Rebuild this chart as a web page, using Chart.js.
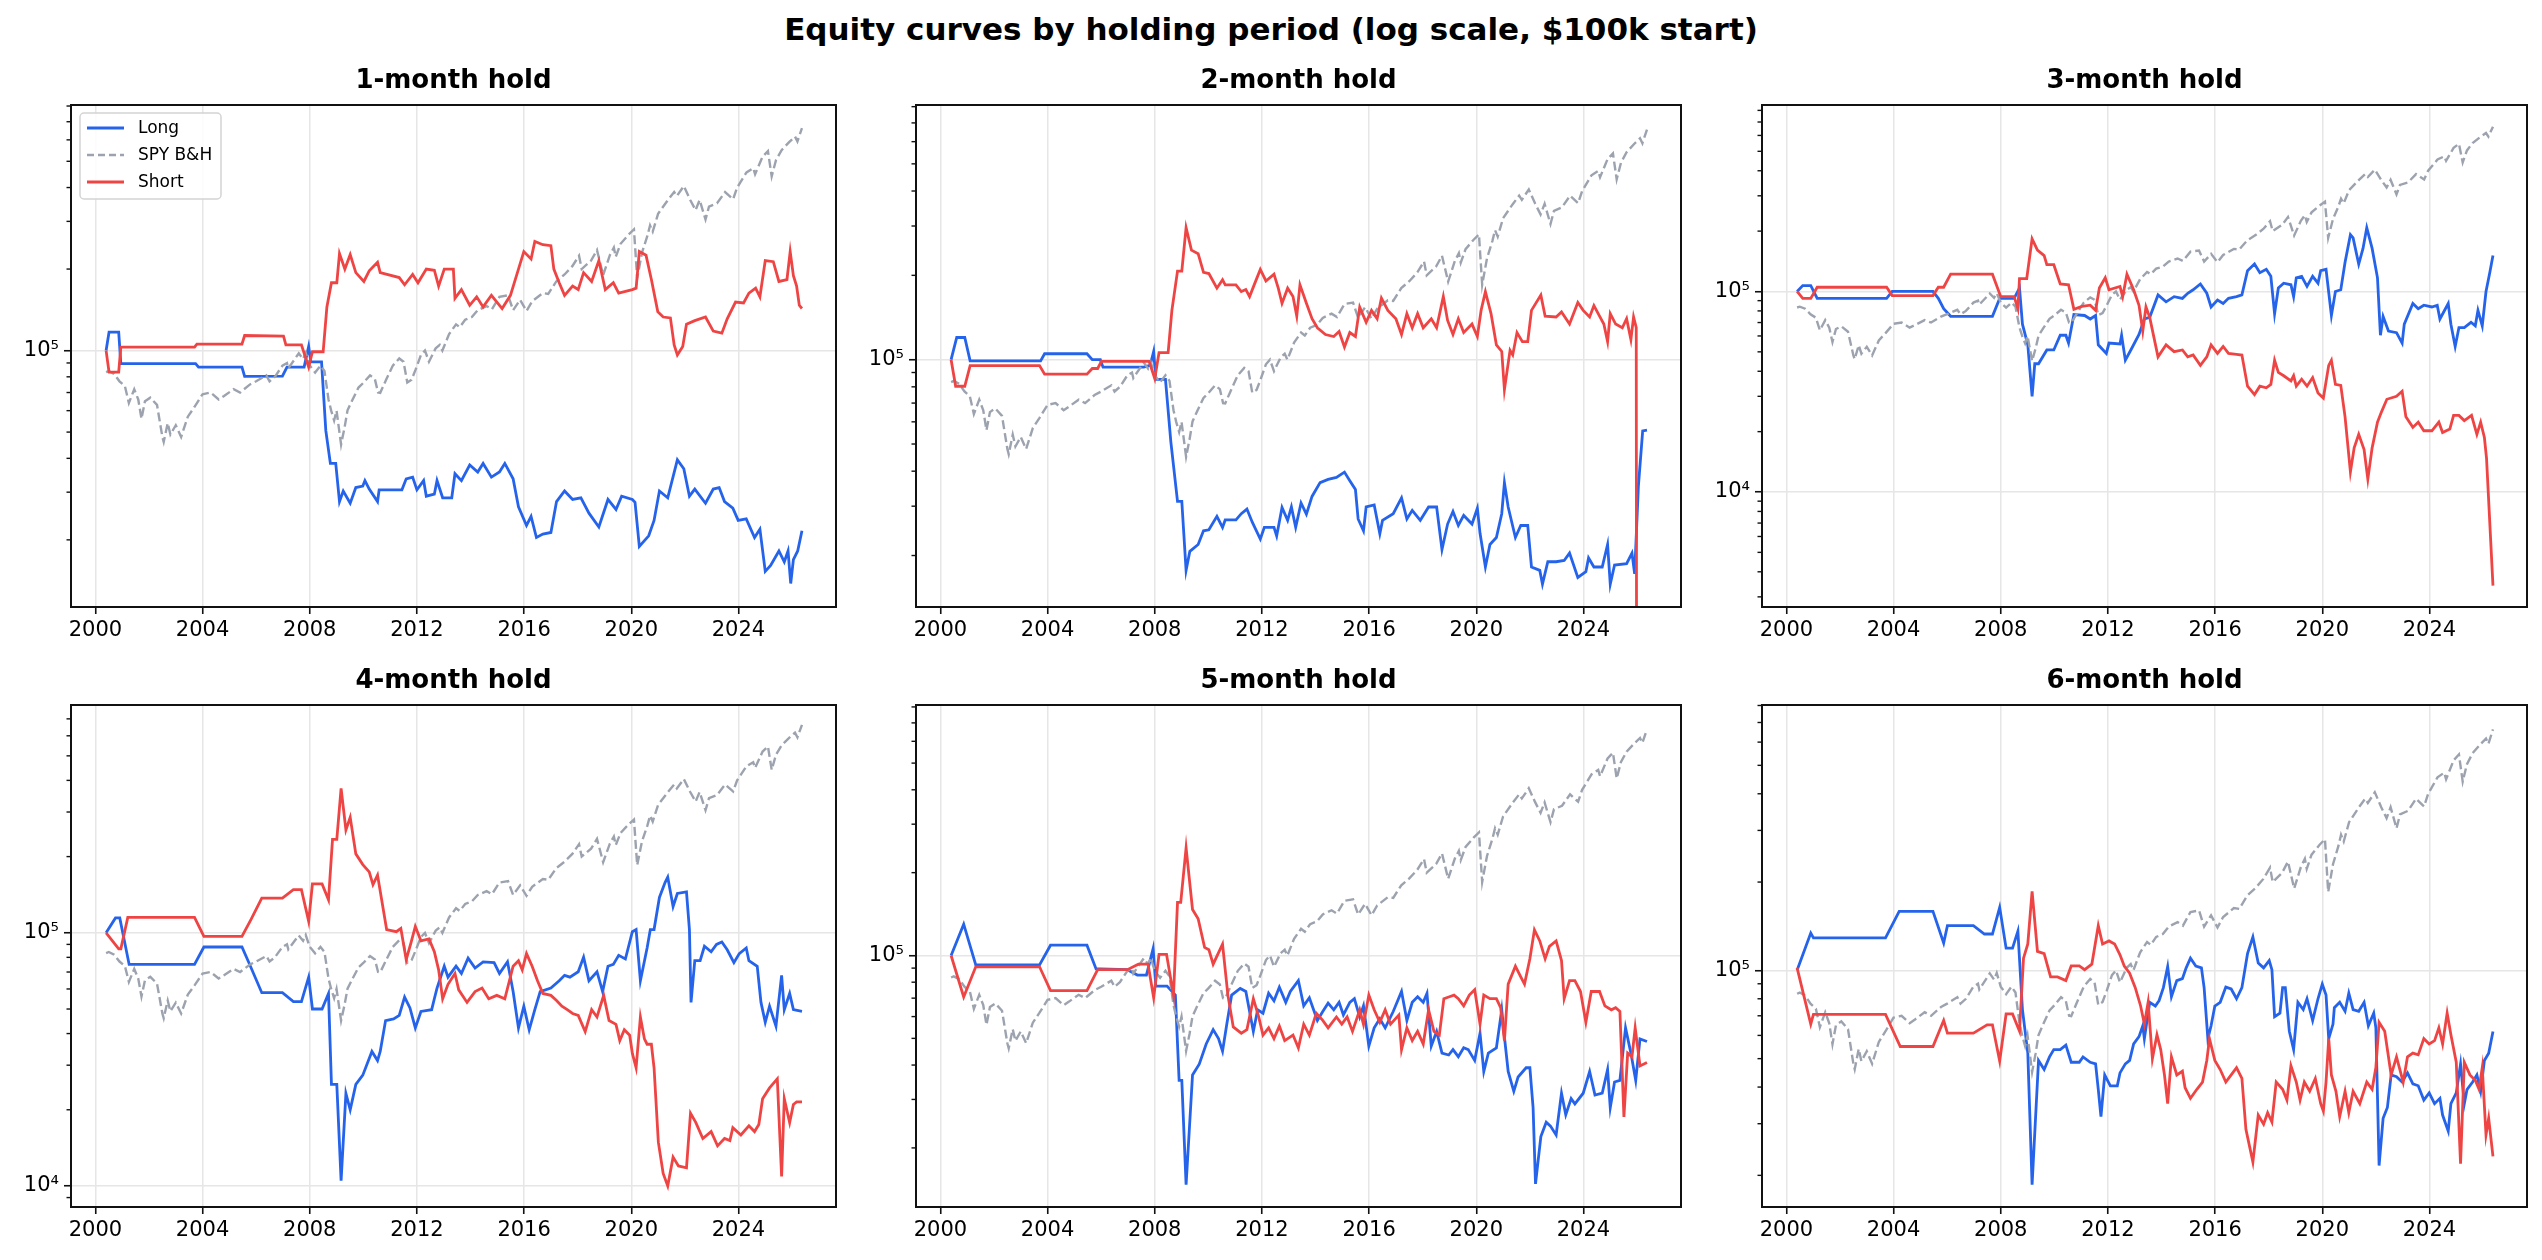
<!doctype html>
<html>
<head>
<title>Equity curves by holding period</title>
<script src="https://cdn.jsdelivr.net/npm/chart.js@4.4.1/dist/chart.umd.min.js"></script>
<style>
  body { margin: 0; background: #fff; width: 2542px; height: 1260px; position: relative; overflow: hidden; font-family: 'DejaVu Sans', sans-serif; }
  #suptitle { position: absolute; left: 0; top: 11px; width: 2542px; text-align: center; font-weight: bold; font-size: 31px; line-height: 36px; color: #000; }
  canvas { position: absolute; }
</style>
</head>
<body>
<div id="suptitle">Equity curves by holding period (log scale, $100k start)</div>
<canvas id="c0" width="860" height="607"></canvas>
<canvas id="c1" width="860" height="607"></canvas>
<canvas id="c2" width="860" height="607"></canvas>
<canvas id="c3" width="860" height="607"></canvas>
<canvas id="c4" width="860" height="607"></canvas>
<canvas id="c5" width="860" height="607"></canvas>
<script>
// values are [year, equity in $k]
const spy = [[2000.40,83.2],[2000.50,84],[2000.70,82],[2000.90,77],[2001.10,74],[2001.25,64],[2001.45,72],[2001.60,66],[2001.72,56],[2001.85,65],[2002.05,67],[2002.30,63],[2002.50,48],[2002.55,46],[2002.70,54],[2002.80,49],[2003.00,53],[2003.20,48],[2003.45,57],[2003.70,62],[2004.00,69],[2004.30,70],[2004.60,66],[2004.80,68],[2005.16,72],[2005.40,70],[2005.77,75],[2006.00,77],[2006.38,81],[2006.50,77],[2006.70,80],[2006.98,88],[2007.15,90],[2007.20,86],[2007.59,97.7],[2007.75,93],[2007.85,98],[2008.00,88],[2008.20,83],[2008.40,88],[2008.55,84],[2008.70,66],[2008.80,60],[2008.91,55.2],[2009.00,60],[2009.17,45],[2009.30,52],[2009.41,60.2],[2009.60,66],[2009.82,73],[2010.00,76],[2010.25,81],[2010.43,78.5],[2010.55,70],[2010.63,69.8],[2010.85,78],[2011.10,88],[2011.34,93.5],[2011.50,91],[2011.64,76.2],[2011.80,78],[2011.95,85],[2012.15,96.3],[2012.30,100],[2012.45,91],[2012.70,102],[2012.85,105],[2012.95,100],[2013.20,115],[2013.46,125],[2013.60,122],[2013.80,130],[2014.05,133],[2014.27,141],[2014.60,146],[2014.80,142],[2015.08,158],[2015.40,160],[2015.59,141],[2015.85,154],[2016.09,140],[2016.30,152],[2016.70,163],[2016.90,162],[2017.20,180],[2017.51,191],[2017.80,205],[2018.05,224],[2018.15,200],[2018.50,215],[2018.72,235],[2018.95,190],[2019.20,225],[2019.35,240],[2019.42,222],[2019.60,248],[2019.90,268],[2020.10,280],[2020.22,185],[2020.40,230],[2020.60,265],[2020.70,290],[2020.80,275],[2021.00,320],[2021.36,359],[2021.60,385],[2021.70,372],[2021.96,405],[2022.20,360],[2022.40,330],[2022.55,360],[2022.77,305],[2022.90,340],[2023.20,350],[2023.50,385],[2023.80,362],[2023.95,400],[2024.30,455],[2024.55,472],[2024.62,448],[2024.90,520],[2025.10,545],[2025.24,440],[2025.40,505],[2025.61,550],[2025.90,590],[2026.11,617],[2026.20,592],[2026.37,663]];

const long1 = [[2000.40,100],[2000.51,117],[2000.87,117],[2000.95,89.5],[2003.74,89.5],[2003.85,86.9],[2005.47,86.9],[2005.57,80.3],[2006.98,80.5],[2007.15,86.9],[2007.79,86.9],[2007.96,103.6],[2008.04,90.8],[2008.44,90.8],[2008.60,50.6],[2008.77,38.3],[2008.97,38.3],[2009.11,27.7],[2009.25,30.3],[2009.51,27.3],[2009.72,31.2],[2009.98,31.6],[2010.06,33.1],[2010.22,30.8],[2010.53,27.7],[2010.59,30.6],[2011.44,30.6],[2011.60,33.6],[2011.84,34.1],[2012.00,30.6],[2012.25,33.1],[2012.35,29],[2012.65,29.5],[2012.75,33.1],[2012.96,28.6],[2013.30,28.6],[2013.42,35.1],[2013.66,33.1],[2013.97,37.8],[2014.27,35.6],[2014.47,38.3],[2014.78,34.1],[2015.08,35.6],[2015.28,38.3],[2015.59,33.6],[2015.79,26.5],[2016.09,22.6],[2016.26,24.4],[2016.46,20.4],[2016.70,21],[2017.00,21.3],[2017.21,27.7],[2017.51,30.3],[2017.81,28.2],[2018.12,28.6],[2018.42,25.1],[2018.79,22.3],[2019.13,28.2],[2019.43,25.9],[2019.64,29],[2020.04,28.2],[2020.14,27.5],[2020.30,18.9],[2020.65,20.7],[2020.85,23.6],[2021.05,30.3],[2021.36,28.6],[2021.72,39.5],[2021.96,36.6],[2022.17,29],[2022.37,30.8],[2022.77,27.3],[2023.06,30.8],[2023.28,31.2],[2023.48,27.7],[2023.79,26.2],[2023.99,23.6],[2024.29,23.9],[2024.60,20.4],[2024.80,21.9],[2025.00,15.3],[2025.20,16.1],[2025.51,18.2],[2025.71,16.6],[2025.85,18.2],[2025.95,13.8],[2026.05,16.9],[2026.21,18.2],[2026.37,21.6]];
const short1 = [[2000.40,100],[2000.51,83.2],[2000.87,83.2],[2000.95,103],[2003.70,103],[2003.79,105.7],[2005.47,105.7],[2005.57,113.7],[2007.02,113],[2007.11,105],[2007.69,105],[2007.96,86.9],[2008.10,99],[2008.50,99],[2008.64,145],[2008.81,178],[2009.01,178],[2009.11,228],[2009.31,200],[2009.51,226],[2009.72,194],[2010.02,180],[2010.22,197],[2010.53,212],[2010.63,194],[2011.34,186],[2011.54,175],[2011.84,191],[2012.04,178],[2012.35,200],[2012.65,198],[2012.81,173],[2013.02,200],[2013.36,200],[2013.42,156],[2013.66,168],[2013.97,147],[2014.23,158],[2014.47,145],[2014.78,160],[2015.18,143],[2015.49,160],[2015.79,200],[2015.99,232],[2016.26,218],[2016.40,253],[2016.70,246],[2017.00,244],[2017.11,200],[2017.31,178],[2017.51,160],[2017.81,173],[2018.02,168],[2018.22,194],[2018.52,180],[2018.79,215],[2019.03,168],[2019.33,178],[2019.53,163],[2020.04,168],[2020.18,170],[2020.30,232],[2020.55,225],[2020.75,183],[2020.99,139],[2021.19,133],[2021.46,132],[2021.60,105],[2021.72,96.3],[2021.92,103.6],[2022.06,125],[2022.37,129],[2022.77,133],[2023.06,118],[2023.38,116],[2023.58,131],[2023.89,151],[2024.19,150],[2024.39,163],[2024.64,170],[2024.80,158],[2025.00,215],[2025.30,213],[2025.51,180],[2025.81,183],[2025.93,232],[2026.05,189],[2026.17,173],[2026.27,147],[2026.37,143]];

const long2 = [[2000.40,100],[2000.61,120],[2000.91,120],[2001.11,99],[2003.74,99],[2003.89,105],[2005.47,105],[2005.67,100],[2005.97,100],[2006.07,94],[2007.59,94],[2007.83,95.5],[2007.96,107],[2008.04,85],[2008.40,85],[2008.60,51],[2008.85,31.2],[2009.01,31.2],[2009.17,17.7],[2009.31,20.7],[2009.62,21.9],[2009.82,24.5],[2010.02,24.7],[2010.32,27.6],[2010.53,25.2],[2010.63,26.8],[2011.03,26.8],[2011.23,28.2],[2011.44,29.3],[2011.64,26.3],[2011.94,22.9],[2012.09,25.2],[2012.45,25.2],[2012.55,23.5],[2012.75,29.7],[2012.96,26.7],[2013.10,29.8],[2013.26,25.2],[2013.46,30.8],[2013.66,28.1],[2013.87,32.5],[2014.17,36.4],[2014.47,37.4],[2014.78,38],[2015.08,39.7],[2015.28,37],[2015.49,34.4],[2015.59,27],[2015.79,24.5],[2015.89,29.8],[2016.19,30.3],[2016.40,23.9],[2016.50,26.7],[2016.90,28.2],[2017.21,32.1],[2017.41,27],[2017.61,29],[2017.91,26.7],[2018.22,29.8],[2018.52,29.8],[2018.72,21],[2018.93,25.9],[2019.13,28.7],[2019.33,25.6],[2019.53,27.8],[2019.84,25.9],[2020.04,29.5],[2020.14,24],[2020.34,18.2],[2020.51,21.9],[2020.75,23.2],[2020.95,28.2],[2021.05,36.4],[2021.19,29.8],[2021.46,23.2],[2021.66,25.6],[2021.92,25.6],[2022.06,18.2],[2022.37,17.7],[2022.47,15.8],[2022.67,19],[2022.98,19],[2023.28,19.2],[2023.48,20.4],[2023.79,16.7],[2024.09,17.5],[2024.19,19.6],[2024.39,18.2],[2024.70,18.2],[2024.90,21.9],[2025.00,15.8],[2025.16,18.5],[2025.61,18.7],[2025.81,20.4],[2025.91,17.2],[2026.05,35.4],[2026.21,55.7],[2026.37,56]];
const short2 = [[2000.40,100],[2000.57,80.4],[2000.91,80.4],[2001.11,95.3],[2003.70,95.3],[2003.89,88.8],[2005.47,88.8],[2005.67,93],[2005.87,93],[2006.01,98.6],[2007.79,98.6],[2008.00,85.6],[2008.16,106],[2008.50,106],[2008.64,150],[2008.85,207],[2009.01,207],[2009.17,296],[2009.37,246],[2009.62,239],[2009.82,205],[2010.02,203],[2010.32,180],[2010.53,193],[2010.63,185],[2011.03,185],[2011.23,175],[2011.40,178],[2011.54,168],[2011.74,188],[2011.94,210],[2012.15,191],[2012.45,202],[2012.61,180],[2012.75,159],[2012.96,180],[2013.16,168],[2013.30,143],[2013.42,185],[2013.66,159],[2013.87,140],[2014.07,130],[2014.37,123],[2014.68,121],[2014.88,126],[2015.08,111],[2015.28,125],[2015.49,121],[2015.65,154],[2015.89,136],[2016.09,150],[2016.30,140],[2016.46,166],[2016.70,150],[2017.00,140],[2017.21,123],[2017.41,146],[2017.61,130],[2017.81,146],[2018.02,130],[2018.32,140],[2018.52,130],[2018.77,168],[2018.93,138],[2019.13,123],[2019.33,140],[2019.53,125],[2019.84,134],[2020.04,121],[2020.18,150],[2020.34,175],[2020.55,146],[2020.75,113],[2020.95,107],[2021.05,78.2],[2021.26,108],[2021.36,104],[2021.52,125],[2021.72,116],[2021.92,116],[2022.06,150],[2022.41,170],[2022.57,143],[2022.98,142],[2023.18,148],[2023.48,134],[2023.79,160],[2023.99,150],[2024.23,142],[2024.39,156],[2024.60,143],[2024.76,134],[2024.90,116],[2025.00,146],[2025.20,134],[2025.45,130],[2025.61,140],[2025.77,118],[2025.87,142],[2025.97,130],[2026.01,0.01]];

const long3 = [[2000.40,100],[2000.61,107],[2000.91,107],[2001.15,92.4],[2003.74,92.4],[2003.95,100],[2005.47,100],[2005.67,92.4],[2005.87,82.1],[2006.13,75.2],[2007.69,75.2],[2007.96,92.4],[2008.50,92.4],[2008.70,104],[2008.81,68.7],[2009.01,54.2],[2009.17,30],[2009.27,43.6],[2009.41,43.6],[2009.72,51.1],[2009.98,51.1],[2010.22,60.5],[2010.43,60.5],[2010.53,55.3],[2010.73,76.7],[2011.13,75.9],[2011.34,72.9],[2011.54,75.9],[2011.64,54.2],[2011.94,49.1],[2012.04,55.3],[2012.45,54.7],[2012.51,60.5],[2012.65,45.4],[2012.89,52.1],[2013.16,61.1],[2013.36,72.9],[2013.56,74.3],[2013.87,96.1],[2014.17,88.8],[2014.47,94.2],[2014.78,92.4],[2014.98,98],[2015.18,102],[2015.45,109],[2015.69,98],[2015.85,83.7],[2016.09,90.6],[2016.30,87.1],[2016.50,92.4],[2016.80,94.2],[2017.00,96.1],[2017.21,127],[2017.47,137],[2017.67,124],[2017.91,129],[2018.08,119],[2018.22,77.4],[2018.36,104],[2018.56,110],[2018.83,108],[2018.93,94.2],[2019.03,117],[2019.23,119],[2019.43,106],[2019.64,119],[2019.84,110],[2019.94,127],[2020.14,129],[2020.34,75.9],[2020.49,100],[2020.69,102],[2020.85,140],[2021.05,192],[2021.15,185],[2021.36,137],[2021.52,164],[2021.66,208],[2021.86,164],[2022.06,117],[2022.17,60.5],[2022.27,75],[2022.47,63.5],[2022.77,62.3],[2022.98,55.3],[2023.06,68.7],[2023.38,87.1],[2023.58,82.1],[2023.79,85.4],[2024.09,83.7],[2024.29,85.4],[2024.39,72.9],[2024.70,87.1],[2024.80,68.7],[2024.96,53.2],[2025.10,66.1],[2025.30,66.1],[2025.55,70.2],[2025.71,67.4],[2025.81,80.5],[2025.97,67.4],[2026.11,100],[2026.25,124],[2026.37,151]];
const short3 = [[2000.40,100],[2000.61,92.4],[2000.91,92.4],[2001.15,105],[2003.74,105],[2003.95,95.4],[2005.47,95.4],[2005.67,105],[2005.87,105],[2006.13,122],[2007.69,122],[2008.00,94.2],[2008.50,94.2],[2008.64,82.1],[2008.70,116],[2008.97,116],[2009.17,183],[2009.37,161],[2009.62,151],[2009.72,136],[2009.98,136],[2010.22,109],[2010.53,108],[2010.73,81.5],[2011.03,84.4],[2011.34,85.4],[2011.54,80.5],[2011.68,104],[2011.90,117],[2012.04,102],[2012.45,106],[2012.55,94.2],[2012.71,122],[2012.96,102],[2013.16,85.4],[2013.30,63.5],[2013.42,83.7],[2013.56,74.3],[2013.87,47.2],[2014.17,54.2],[2014.47,50.1],[2014.78,51.1],[2014.98,47.2],[2015.18,48.2],[2015.45,42.8],[2015.69,47.2],[2015.85,54.2],[2016.09,49.1],[2016.30,53.2],[2016.50,49.1],[2016.80,48.6],[2017.00,48.2],[2017.21,33.7],[2017.47,30.6],[2017.67,33.7],[2017.91,33.1],[2018.08,34.4],[2018.22,45.4],[2018.36,39.5],[2018.56,38],[2018.83,35.8],[2018.93,38],[2019.03,33.7],[2019.23,36.5],[2019.43,33.7],[2019.64,37.2],[2019.84,31.2],[2020.04,29.4],[2020.24,42.8],[2020.34,45.4],[2020.49,34.4],[2020.69,34],[2020.85,23.7],[2021.05,12.6],[2021.19,16.6],[2021.36,19.4],[2021.56,16.3],[2021.70,11.6],[2021.86,16.6],[2022.06,22.3],[2022.21,25.1],[2022.41,29],[2022.77,30],[2022.98,31.8],[2023.12,23.7],[2023.38,21],[2023.58,22.3],[2023.79,20.2],[2024.09,20.2],[2024.35,22.3],[2024.49,19.8],[2024.76,20.6],[2024.90,24.1],[2025.10,24.1],[2025.30,22.7],[2025.57,24.1],[2025.77,19.4],[2025.91,22.3],[2026.05,18.7],[2026.13,14.7],[2026.37,3.41]];

const long4 = [[2000.40,100],[2000.75,114.5],[2000.91,114.5],[2001.26,75],[2003.70,75],[2004.05,87.9],[2005.47,87.9],[2005.73,76.2],[2006.21,58],[2006.98,58],[2007.39,53.5],[2007.69,53.5],[2007.96,66.8],[2008.10,50],[2008.46,50],[2008.70,57.6],[2008.81,25.2],[2009.01,25.2],[2009.17,10.5],[2009.35,23.2],[2009.51,20],[2009.72,25.2],[2009.98,27.4],[2010.32,34],[2010.53,31.3],[2010.63,34],[2010.83,45],[2011.13,45.7],[2011.34,47.2],[2011.54,55.7],[2011.74,50.5],[2011.94,42.1],[2012.15,48.9],[2012.55,49.7],[2012.65,54.9],[2012.75,60.5],[2013.02,73.8],[2013.16,66.8],[2013.46,73.8],[2013.66,69.1],[2013.91,79.4],[2014.17,72.6],[2014.47,76.8],[2014.88,76.2],[2015.08,69.1],[2015.38,76.8],[2015.59,58.6],[2015.79,42.1],[2015.99,51.3],[2016.19,41.4],[2016.40,49.7],[2016.60,58.6],[2017.00,60.5],[2017.31,64.7],[2017.51,67.9],[2017.71,66.8],[2018.02,70.2],[2018.22,80.2],[2018.42,64.7],[2018.72,70.2],[2018.93,58.6],[2019.13,73.8],[2019.33,75],[2019.53,81.5],[2019.78,78.8],[2020.04,101],[2020.18,103],[2020.34,64.7],[2020.59,87.1],[2020.71,103],[2020.85,103],[2021.05,138],[2021.26,158],[2021.36,166],[2021.56,127],[2021.72,143],[2022.06,145],[2022.17,103],[2022.23,53.1],[2022.37,77.6],[2022.57,77.6],[2022.73,88.5],[2022.98,84.2],[2023.18,90],[2023.38,92],[2023.58,85.7],[2023.83,76.2],[2024.03,82.8],[2024.29,87.1],[2024.39,77.6],[2024.70,73.8],[2024.84,53.1],[2025.00,44.3],[2025.16,51.3],[2025.40,42.8],[2025.61,67.9],[2025.71,49.7],[2025.91,57.6],[2026.05,49.7],[2026.37,48.9]];
const short4 = [[2000.40,100],[2000.87,86.5],[2000.95,86.5],[2001.21,115],[2003.70,115],[2004.05,96.8],[2005.47,96.8],[2005.81,113],[2006.21,137],[2006.98,137],[2007.39,148],[2007.69,148],[2007.96,111],[2008.10,156],[2008.46,156],[2008.70,135],[2008.85,234],[2009.01,234],[2009.17,372],[2009.35,255],[2009.51,286],[2009.72,205],[2009.98,186],[2010.22,174],[2010.36,155],[2010.53,169],[2010.87,103],[2011.23,101],[2011.40,104],[2011.60,78.3],[2011.78,91.5],[2011.94,106],[2012.15,93],[2012.45,94.6],[2012.65,84.2],[2012.81,71.4],[2012.96,54.9],[2013.16,62.6],[2013.42,69.1],[2013.56,59.5],[2013.87,53.1],[2014.17,58.6],[2014.43,60.5],[2014.68,54.9],[2014.98,56.6],[2015.28,54.9],[2015.59,73.8],[2015.79,77.6],[2015.93,71.4],[2016.09,82.8],[2016.30,73.8],[2016.50,64.7],[2016.70,57.6],[2017.00,56.6],[2017.21,54],[2017.41,51.3],[2017.61,49.7],[2017.81,48],[2018.02,47.2],[2018.28,40.7],[2018.52,49.7],[2018.72,46.5],[2018.97,56.6],[2019.17,45],[2019.43,43.5],[2019.57,37.5],[2019.74,41.4],[2019.94,39.4],[2020.04,33.4],[2020.18,29.3],[2020.34,46.5],[2020.49,38.1],[2020.59,36.3],[2020.75,36.3],[2020.85,29.3],[2021.01,14.9],[2021.19,11.2],[2021.36,10],[2021.56,13],[2021.76,12],[2022.06,11.8],[2022.21,19.4],[2022.41,17.8],[2022.67,15.4],[2022.98,16.4],[2023.22,14.4],[2023.48,15.4],[2023.68,15.1],[2023.79,17],[2024.09,15.9],[2024.39,17.3],[2024.60,16.4],[2024.76,17.5],[2024.90,22.1],[2025.16,24.4],[2025.45,26.5],[2025.61,10.9],[2025.71,22.1],[2025.91,17.8],[2026.05,21],[2026.17,21.5],[2026.37,21.5]];

const long5 = [[2000.40,100],[2000.87,130],[2001.32,92.4],[2003.70,92.4],[2004.11,109],[2005.47,109],[2005.81,89.4],[2005.97,89.4],[2006.98,88.8],[2007.35,84.9],[2007.69,84.9],[2007.94,106],[2008.04,77.4],[2008.46,77.4],[2008.77,71.8],[2008.91,35.2],[2009.01,35.2],[2009.17,14.7],[2009.41,36.8],[2009.66,40.3],[2009.92,47.7],[2010.18,53.8],[2010.38,49.9],[2010.53,44.9],[2010.69,56.4],[2010.87,71.8],[2011.19,75.9],[2011.40,74],[2011.54,62.6],[2011.68,53],[2011.84,63.5],[2012.04,61.7],[2012.25,72.9],[2012.45,68.5],[2012.65,76.7],[2012.89,67.6],[2013.06,74],[2013.36,81.1],[2013.56,65.6],[2013.77,70.2],[2014.07,58.1],[2014.27,62.6],[2014.47,67.1],[2014.68,63.5],[2014.88,67.6],[2015.04,60.8],[2015.28,67.6],[2015.45,69.7],[2015.65,59.8],[2015.79,65.6],[2015.99,46.9],[2016.19,54.6],[2016.40,58.9],[2016.60,54.6],[2016.90,62.6],[2017.21,74],[2017.41,58.1],[2017.61,67.6],[2017.81,70.8],[2018.02,67.6],[2018.16,72.9],[2018.32,46.9],[2018.52,53],[2018.72,44.2],[2018.97,43.5],[2019.13,45.5],[2019.33,42.9],[2019.53,46.2],[2019.70,45.5],[2019.94,41.6],[2020.14,52.2],[2020.28,37.9],[2020.45,44.2],[2020.75,46.2],[2020.95,63.5],[2021.05,50.6],[2021.19,37.9],[2021.40,32.1],[2021.56,36.2],[2021.86,39.1],[2022.00,39.1],[2022.12,28],[2022.21,14.8],[2022.41,22],[2022.61,24.8],[2022.77,24],[2022.98,22.3],[2023.18,31.6],[2023.34,26.4],[2023.54,30.2],[2023.68,28.9],[2023.99,31.6],[2024.23,37.9],[2024.43,31.1],[2024.70,31.6],[2024.90,38.5],[2025.00,28],[2025.16,34.7],[2025.36,35.2],[2025.57,54.6],[2025.77,44.2],[2025.95,35.2],[2026.11,49.8],[2026.37,48.7]];
const short5 = [[2000.40,100],[2000.87,70.7],[2001.32,91],[2003.70,91],[2004.11,74.5],[2005.47,74.5],[2005.87,88.8],[2006.98,88.8],[2007.39,93],[2007.75,93],[2007.96,70.2],[2008.16,101],[2008.44,101],[2008.70,71.8],[2008.85,156],[2008.97,156],[2009.17,246],[2009.41,147],[2009.62,136],[2009.86,107],[2010.02,105],[2010.18,93],[2010.53,110],[2010.73,71.8],[2010.93,55],[2011.23,52.2],[2011.44,53.8],[2011.68,69.7],[2011.88,59.8],[2012.04,51.4],[2012.25,54.6],[2012.45,49.9],[2012.65,55.4],[2012.85,49.1],[2013.16,51.4],[2013.36,46.2],[2013.56,56.3],[2013.77,51.4],[2014.03,61.7],[2014.27,58.1],[2014.47,54.6],[2014.78,59.8],[2014.98,56.3],[2015.18,59.8],[2015.38,53],[2015.65,63.5],[2015.79,56.3],[2015.99,71.8],[2016.19,63.5],[2016.40,57.2],[2016.60,63.5],[2016.80,56.3],[2017.11,60.8],[2017.21,45.5],[2017.41,54.6],[2017.61,49.1],[2017.81,53],[2018.02,47.7],[2018.22,63.5],[2018.42,53],[2018.62,51.4],[2018.79,69.7],[2018.97,70.7],[2019.17,71.8],[2019.33,69.7],[2019.53,65.6],[2019.74,71.8],[2019.94,75.1],[2020.14,56.3],[2020.28,71.8],[2020.51,69.7],[2020.75,69.7],[2020.91,64.6],[2021.05,49.1],[2021.19,78.7],[2021.46,91.5],[2021.66,83.6],[2021.80,78.7],[2022.00,97.3],[2022.17,124],[2022.37,113],[2022.57,97.3],[2022.73,108],[2022.98,113],[2023.18,95.9],[2023.28,69.7],[2023.48,81.1],[2023.68,81.1],[2023.89,74],[2024.09,57.2],[2024.29,74],[2024.60,74],[2024.80,65.6],[2025.04,63.5],[2025.20,64.6],[2025.36,62.6],[2025.51,25.9],[2025.65,44.2],[2025.81,42.9],[2025.93,54.6],[2026.11,39.7],[2026.37,40.9]];

const long6 = [[2000.40,100],[2000.91,134],[2001.01,129],[2003.70,129],[2004.21,159],[2005.47,159],[2005.87,124],[2006.01,142],[2006.98,142],[2007.39,133],[2007.69,133],[2007.96,164],[2008.20,119],[2008.44,119],[2008.64,136],[2008.81,73.5],[2009.01,52.2],[2009.17,18.6],[2009.41,49.3],[2009.62,45.9],[2009.82,50.7],[2009.98,53.7],[2010.22,53.7],[2010.43,55.6],[2010.63,48.6],[2010.93,48.6],[2011.07,50.7],[2011.34,48.6],[2011.54,48],[2011.64,39.3],[2011.74,31.7],[2011.88,44],[2012.09,40.4],[2012.35,40.4],[2012.45,44.7],[2012.65,48],[2012.81,49.3],[2012.96,56.1],[2013.16,59.4],[2013.30,64.7],[2013.36,58.5],[2013.56,77.8],[2013.77,75.6],[2013.91,78.9],[2014.07,87.3],[2014.23,103],[2014.37,81.3],[2014.57,92.3],[2014.78,93.7],[2014.92,102],[2015.08,110],[2015.28,103.5],[2015.49,102],[2015.59,87.3],[2015.73,58.5],[2015.85,64.7],[2015.99,75.6],[2016.19,77.8],[2016.40,87.7],[2016.60,86.4],[2016.80,80],[2017.00,87.3],[2017.21,114],[2017.41,130],[2017.61,106],[2017.81,102],[2018.02,108],[2018.12,100.5],[2018.22,69.5],[2018.42,71.5],[2018.52,87.3],[2018.62,87.3],[2018.77,62],[2018.93,53.7],[2019.09,77.8],[2019.29,73.5],[2019.43,80],[2019.64,67.4],[2019.84,80],[2020.00,89.7],[2020.14,82.4],[2020.24,58.5],[2020.40,65.6],[2020.45,74.6],[2020.65,77.8],[2020.85,72.5],[2020.99,83.6],[2021.15,73.5],[2021.36,72.5],[2021.56,77.8],[2021.72,64.7],[2021.92,71.5],[2022.00,63.7],[2022.12,21.6],[2022.27,31.3],[2022.43,34.1],[2022.57,44],[2022.77,43.4],[2022.98,41.6],[2023.18,44.7],[2023.38,41],[2023.58,40.4],[2023.79,36.1],[2023.99,38.2],[2024.19,35.1],[2024.39,36.6],[2024.49,32.1],[2024.70,28.3],[2024.80,35.1],[2025.00,38.2],[2025.16,47.9],[2025.30,35.1],[2025.40,39.2],[2025.61,41.6],[2025.77,44],[2025.91,38.7],[2026.05,49.3],[2026.21,52.2],[2026.37,61.9]];
const short6 = [[2000.40,102],[2000.91,65.6],[2001.01,70.8],[2003.70,70.8],[2004.25,55],[2005.47,55],[2005.87,67.5],[2006.01,61.1],[2006.98,61.1],[2007.49,65.2],[2007.69,65.2],[2007.96,49.1],[2008.20,71],[2008.44,71],[2008.70,62],[2008.85,110],[2009.01,123],[2009.17,186],[2009.37,116],[2009.62,114],[2009.86,95],[2010.12,95],[2010.43,92.3],[2010.63,103.5],[2010.93,103.5],[2011.13,100.5],[2011.40,105],[2011.64,142],[2011.80,123],[2012.04,126],[2012.25,123],[2012.45,113],[2012.61,103.5],[2012.81,97.8],[2013.02,87.3],[2013.22,75.6],[2013.36,65.6],[2013.50,77.8],[2013.66,50],[2013.83,60.3],[2013.97,53.7],[2014.11,44],[2014.23,35.1],[2014.37,50.7],[2014.57,44],[2014.78,45.3],[2014.88,39.8],[2015.08,36.6],[2015.32,39.3],[2015.53,41.6],[2015.69,49.3],[2015.79,58.5],[2015.99,49.3],[2016.19,45.9],[2016.40,41.6],[2016.60,44],[2016.80,46.6],[2017.00,42.8],[2017.15,28.7],[2017.41,22.2],[2017.61,32.1],[2017.81,29.9],[2017.96,32.7],[2018.12,30.4],[2018.28,41.6],[2018.52,39.3],[2018.68,36.1],[2018.83,47.3],[2019.03,41.6],[2019.17,36.1],[2019.33,41.6],[2019.53,38.7],[2019.74,42.8],[2019.94,35.1],[2020.04,33.1],[2020.14,41.6],[2020.24,58.5],[2020.34,44],[2020.51,38.7],[2020.65,31.7],[2020.85,38.7],[2020.99,32.7],[2021.15,38.7],[2021.40,35.1],[2021.66,41.6],[2021.86,39.3],[2022.00,46.6],[2022.12,66.5],[2022.33,62],[2022.57,44],[2022.77,50.7],[2023.02,41.6],[2023.18,50.7],[2023.38,52.2],[2023.58,51.5],[2023.79,58.5],[2023.99,56.1],[2024.19,57.6],[2024.35,63.7],[2024.49,56.1],[2024.66,71.5],[2024.80,60.3],[2025.00,48.6],[2025.16,21.9],[2025.30,48.6],[2025.51,44],[2025.71,42.2],[2025.85,39.3],[2025.97,46.6],[2026.11,27.5],[2026.21,31.3],[2026.37,23.2]];

const panelTitles = ['1-month hold', '2-month hold', '3-month hold', '4-month hold', '5-month hold', '6-month hold'];
const longSeries = [long1, long2, long3, long4, long5, long6];
const shortSeries = [short1, short2, short3, short4, short5, short6];
const yMins = [11300, 13100, 2670, 8260, 12200, 15600];
const yMaxs = [807000, 811000, 851000, 794000, 813000, 803000];
const xTicks = [2000, 2004, 2008, 2012, 2016, 2020, 2024];
const legendLabels = ['Long', 'SPY B&H', 'Short'];

const BLUE = '#2563eb', RED = '#ef4444', GRAY = '#9ca3af';
const SUP = {'3': '\u00b3', '4': '\u2074', '5': '\u2075', '6': '\u2076'};
const FONT = "'DejaVu Sans', sans-serif";
Chart.defaults.font.family = FONT;

// axes box positions on the page
const colLeft = [71, 916, 1762];
const rowTop = [105, 705];
const PAD_L = 75, PAD_T = 50, PAD_R = 20, PAD_B = 55;

function toPoints(pairs) {
  return pairs.map(p => ({ x: p[0], y: p[1] * 1000 }));
}

const panelDecor = {
  id: 'panelDecor',
  afterDatasetsDraw(chart, args, opts) {
    const ctx = chart.ctx, a = chart.chartArea, y = chart.scales.y;
    ctx.save();
    // minor log ticks
    ctx.strokeStyle = '#111';
    ctx.lineWidth = 1.4;
    const lo = Math.floor(Math.log10(y.min)), hi = Math.ceil(Math.log10(y.max));
    for (let k = lo; k <= hi; k++) {
      for (let m = 2; m <= 9; m++) {
        const v = m * Math.pow(10, k);
        if (v < y.min || v > y.max) continue;
        const py = y.getPixelForValue(v);
        ctx.beginPath();
        ctx.moveTo(a.left, py);
        ctx.lineTo(a.left - 4.5, py);
        ctx.stroke();
      }
    }
    // frame
    ctx.lineWidth = 2;
    ctx.strokeRect(a.left, a.top, a.right - a.left, a.bottom - a.top);
    // title
    ctx.fillStyle = '#000';
    ctx.font = 'bold 26px ' + FONT;
    ctx.textAlign = 'center';
    ctx.textBaseline = 'middle';
    ctx.fillText(opts.title, (a.left + a.right) / 2, a.top - 24);
    // legend
    if (opts.legend) {
      const x0 = a.left + 9, y0 = a.top + 8, w = 141, h = 86;
      ctx.beginPath();
      ctx.roundRect(x0, y0, w, h, 4);
      ctx.fillStyle = 'rgba(255,255,255,0.85)';
      ctx.fill();
      ctx.strokeStyle = '#d4d4d4';
      ctx.lineWidth = 1.5;
      ctx.stroke();
      const cols = [BLUE, GRAY, RED];
      legendLabels.forEach((lab, i) => {
        const ly = y0 + 15 + i * 27;
        ctx.beginPath();
        ctx.strokeStyle = cols[i];
        ctx.lineWidth = i === 1 ? 2.4 : 2.8;
        ctx.setLineDash(i === 1 ? [7, 4] : []);
        ctx.moveTo(x0 + 7, ly);
        ctx.lineTo(x0 + 44, ly);
        ctx.stroke();
        ctx.setLineDash([]);
        ctx.fillStyle = '#000';
        ctx.font = '17px ' + FONT;
        ctx.textAlign = 'left';
        ctx.textBaseline = 'middle';
        ctx.fillText(lab, x0 + 58, ly + 1);
      });
    }
    ctx.restore();
  }
};

function makePanel(i) {
  const canvas = document.getElementById('c' + i);
  const col = i % 3, row = Math.floor(i / 3);
  canvas.style.left = (colLeft[col] - PAD_L) + 'px';
  canvas.style.top = (rowTop[row] - PAD_T) + 'px';
  const yMin = yMins[i], yMax = yMaxs[i];
  new Chart(canvas, {
    type: 'line',
    data: {
      datasets: [
        { label: legendLabels[0], data: toPoints(longSeries[i]), borderColor: BLUE, borderWidth: 2.8, order: 3 },
        { label: legendLabels[1], data: toPoints(spy), borderColor: GRAY, borderWidth: 2.4, borderDash: [9, 4], order: 2 },
        { label: legendLabels[2], data: toPoints(shortSeries[i]), borderColor: RED, borderWidth: 2.8, order: 1 }
      ]
    },
    options: {
      responsive: false,
      animation: false,
      layout: { padding: { left: 0, top: PAD_T, right: PAD_R, bottom: 0 } },
      elements: { point: { radius: 0 }, line: { tension: 0, fill: false } },
      plugins: {
        legend: { display: false },
        tooltip: { enabled: false },
        panelDecor: { title: panelTitles[i], legend: i === 0 }
      },
      scales: {
        x: {
          type: 'linear',
          min: 1999.09,
          max: 2027.64,
          bounds: 'data',
          afterBuildTicks: s => { s.ticks = xTicks.map(v => ({ value: v })); },
          afterFit: s => { s.height = PAD_B; },
          ticks: { autoSkip: false, maxRotation: 0, padding: 4, color: '#000', font: { size: 21 }, callback: v => String(v) },
          grid: { color: '#e6e6e6', lineWidth: 1.5, tickLength: 7, tickColor: '#111', tickWidth: 1.6 },
          border: { display: false }
        },
        y: {
          type: 'logarithmic',
          min: yMin,
          max: yMax,
          bounds: 'data',
          afterBuildTicks: s => {
            const t = [];
            for (let k = 0; k <= 7; k++) {
              const v = Math.pow(10, k);
              if (v >= yMin && v <= yMax) t.push({ value: v });
            }
            s.ticks = t;
          },
          afterFit: s => { s.width = PAD_L; },
          ticks: {
            padding: 5, color: '#000', font: { size: 21 },
            callback: v => '10' + SUP[String(Math.round(Math.log10(v)))]
          },
          grid: { color: '#e6e6e6', lineWidth: 1.5, tickLength: 7, tickColor: '#111', tickWidth: 1.6 },
          border: { display: false }
        }
      }
    },
    plugins: [panelDecor]
  });
}

for (let i = 0; i < 6; i++) makePanel(i);
</script>
</body>
</html>
